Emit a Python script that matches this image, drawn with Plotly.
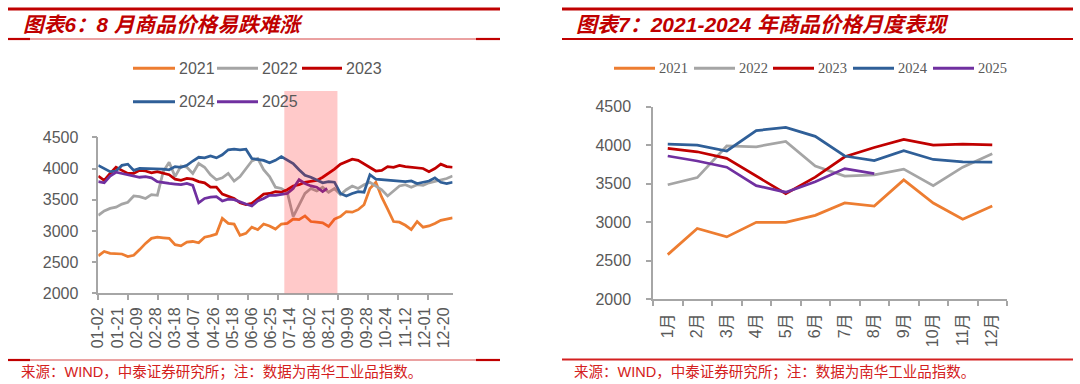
import plotly.graph_objects as go

# ---------------- data ----------------
YEARS = ["2021", "2022", "2023", "2024", "2025"]
COLORS = ["#ED7D31", "#A5A5A5", "#C00000", "#2F5F98", "#7030A0"]

# left chart: trading-day index of each sample (x axis is a trading-day category axis)
DAYS = [0, 4, 8, 12, 16, 20, 24, 28, 32, 36, 40, 44, 48, 52, 56, 60, 64, 68, 72, 76,
        80, 84, 88, 92, 96, 100, 104, 108, 112, 116, 120, 124, 128, 132, 136, 140, 144,
        148, 152, 156, 160, 164, 168, 172, 176, 180, 184, 188, 192, 196, 200, 204, 208,
        212, 216, 220, 224, 228, 232, 236, 240]
DAYS_2025 = [0, 4, 8, 12, 16, 20, 24, 28, 32, 36, 40, 44, 48, 52, 56, 60, 64, 68, 72, 76,
             80, 84, 88, 92, 96, 100, 104, 108, 112, 116, 120, 124, 128, 132, 136, 140,
             144, 148, 152, 155]

D2021 = [2600, 2670, 2640, 2640, 2630, 2590, 2610, 2700, 2800, 2880, 2900, 2890, 2880, 2780,
         2760, 2820, 2830, 2810, 2900, 2920, 2950, 3200, 3120, 3110, 2930, 2960, 3060, 3020,
         3110, 3080, 3030, 3110, 3120, 3190, 3180, 3240, 3150, 3140, 3130, 3070, 3190, 3230,
         3310, 3300, 3340, 3420, 3680, 3780, 3540, 3350, 3150, 3140, 3090, 3020, 3150, 3060,
         3080, 3120, 3170, 3190, 3210]
D2022 = [3250, 3320, 3360, 3380, 3430, 3460, 3560, 3550, 3520, 3580, 3570, 3950, 4100, 3870,
         4040, 4020, 3920, 4080, 4020, 3900, 3820, 3850, 3920, 3800, 3870, 3990, 4120, 4160,
         3980, 3870, 3700, 3680, 3620, 3230, 3420, 3600, 3680, 3640, 3700, 3620, 3680, 3580,
         3660, 3720, 3680, 3740, 3780, 3720, 3660, 3560, 3640, 3720, 3740, 3700, 3740, 3730,
         3770, 3790, 3810, 3840, 3880]
D2023 = [3880, 3810, 3920, 4020, 3970, 3920, 3920, 3970, 3960, 3930, 3950, 3930, 3900, 3830,
         3810, 3840, 3830, 3790, 3770, 3700, 3700, 3590, 3560, 3520, 3450, 3420, 3440, 3520,
         3590, 3600, 3630, 3620, 3660, 3720, 3740, 3780, 3800, 3810, 3860, 3920, 3990, 4070,
         4110, 4150, 4130, 4070, 4010, 3960, 3970, 4030, 4020, 4050, 4030, 4020, 4020, 4000,
         3950, 4000, 4070, 4030, 4020]
D2024 = [4050, 4000, 3950, 3960, 4050, 4070, 3970, 4000, 4000, 4000, 4000, 3990, 3980, 4030,
         4020, 4050, 4120, 4180, 4170, 4200, 4170, 4220, 4300, 4310, 4300, 4310, 4160, 4140,
         4130, 4090, 4130, 4190, 4140, 4080, 3980, 3890, 3860, 3810, 3770, 3790, 3780, 3600,
         3560, 3600, 3630, 3620, 3900, 3830, 3820, 3810, 3800, 3800, 3790, 3800, 3760, 3780,
         3800, 3850, 3780, 3760, 3780]
D2025 = [3790, 3770, 3880, 3940, 3920, 3900, 3870, 3860, 3870, 3850, 3790, 3770, 3760, 3750,
         3740, 3760, 3730, 3450, 3520, 3540, 3550, 3480, 3510, 3500, 3460, 3430, 3400, 3480,
         3520, 3570, 3570, 3580, 3600, 3680, 3820, 3760, 3720, 3700, 3630, 3680]

TICK_DAYS = [0, 13, 26, 39, 52, 65, 78, 91, 104, 117, 130, 143, 156, 169, 182, 195, 208, 221, 234]
DATE_LABELS = ["01-02", "01-21", "02-09", "02-28", "03-18", "04-07", "04-26", "05-18", "06-06",
               "06-25", "07-14", "08-02", "08-21", "09-09", "09-28", "10-24", "11-12", "12-01",
               "12-20"]
SHADE_START, SHADE_END = 126, 162   # August highlight (trading-day index)

# right chart: monthly averages
MONTHS = ["1月", "2月", "3月", "4月", "5月", "6月", "7月", "8月", "9月", "10月", "11月", "12月"]
M2021 = [2580, 2920, 2810, 3000, 3000, 3090, 3250, 3210, 3550, 3250, 3040, 3210]
M2022 = [3487, 3580, 3990, 3980, 4050, 3730, 3600, 3615, 3690, 3475, 3715, 3890]
M2023 = [3960, 3915, 3830, 3600, 3370, 3585, 3850, 3970, 4075, 4000, 4015, 4005]
M2024 = [4015, 4000, 3925, 4190, 4230, 4115, 3860, 3800, 3930, 3815, 3785, 3780]
M2025 = [3860, 3795, 3715, 3475, 3390, 3525, 3697, 3630]

TITLE_L = "图表6：8 月商品价格易跌难涨"
TITLE_R = "图表7：2021-2024 年商品价格月度表现"
SOURCE = "来源：WIND，中泰证券研究所；注：数据为南华工业品指数。"

# ---------------- figure ----------------
W, H = 1080, 384
def px(x):
    return x / W
def py(y):
    return 1 - y / H

RED = "#C00000"
AXC = "#A6A6A6"
TXT = "#595959"
SANS = "Liberation Sans, Arial, Noto Sans CJK SC"

fig = go.Figure()

left_x = [DAYS, DAYS, DAYS, DAYS, DAYS_2025]
left_y = [D2021, D2022, D2023, D2024, D2025]
for name, c, xs, ys in zip(YEARS, COLORS, left_x, left_y):
    fig.add_trace(go.Scatter(x=xs, y=ys, mode="lines", name=name, showlegend=False,
                             line=dict(color=c, width=2.75), xaxis="x", yaxis="y"))

right_y = [M2021, M2022, M2023, M2024, M2025]
for name, c, ys in zip(YEARS, COLORS, right_y):
    fig.add_trace(go.Scatter(x=MONTHS[:len(ys)], y=ys, mode="lines", name=name,
                             showlegend=False, line=dict(color=c, width=2.75),
                             xaxis="x2", yaxis="y2"))

tickfont = dict(family=SANS, size=16, color=TXT)

fig.update_layout(
    width=W, height=H, autosize=False,
    margin=dict(l=0, r=0, t=0, b=0, autoexpand=False),
    paper_bgcolor="white", plot_bgcolor="rgba(0,0,0,0)",
    xaxis=dict(domain=[px(98.3), px(452.6)], range=[0, 240], anchor="y", automargin=False,
               tickmode="array", tickvals=TICK_DAYS, ticktext=DATE_LABELS, tickangle=-90,
               ticks="", showline=True, linecolor=AXC, linewidth=1.5, showgrid=False,
               zeroline=False, tickfont=tickfont, ticklabelstandoff=6,
               minor=dict(ticks="outside", ticklen=5, tickwidth=1.5, tickcolor=AXC,
                          tickmode="linear", tick0=0, dtick=20.3, showgrid=False)),
    yaxis=dict(domain=[py(293.3), py(137.3)], range=[2000, 4500], anchor="x", automargin=False,
               dtick=500, ticks="outside", ticklen=5, tickwidth=1.5, tickcolor=AXC,
               showline=True, linecolor=AXC, linewidth=1.5, showgrid=False,
               zeroline=False, tickfont=tickfont, ticklabelstandoff=10),
    xaxis2=dict(domain=[px(653), px(1007)], type="category", categoryorder="array",
                categoryarray=MONTHS, range=[-0.5, 11.5], anchor="y2", automargin=False,
                tickson="boundaries", ticks="outside", ticklen=5, tickwidth=1.5,
                tickcolor=AXC, tickangle=-90, showline=True, linecolor=AXC, linewidth=1.5,
                showgrid=False, zeroline=False, tickfont=tickfont, ticklabelstandoff=6),
    yaxis2=dict(domain=[py(299.3), py(106.7)], range=[2000, 4500], anchor="x2", automargin=False,
                dtick=500, ticks="outside", ticklen=5, tickwidth=1.5, tickcolor=AXC,
                showline=True, linecolor=AXC, linewidth=1.5, showgrid=False,
                zeroline=False, tickfont=tickfont, ticklabelstandoff=12),
)

shapes = []
def hline(x0, x1, y, w, color):
    shapes.append(dict(type="line", xref="paper", yref="paper", x0=px(x0), x1=px(x1),
                       y0=py(y), y1=py(y), line=dict(color=color, width=w)))

# left panel decorations
hline(8, 500, 9, 3.2, RED)
hline(8, 500, 39, 1, "#D64545")
hline(8, 30, 39, 2.2, RED)
hline(476, 500, 39, 2.2, RED)
hline(8, 500, 360, 1, "#D64545")
hline(8, 30, 360, 2.2, RED)
hline(476, 500, 360, 2.2, RED)
# right panel decorations
hline(562, 1073, 9, 3.2, RED)
hline(562, 1073, 39, 2, RED)
hline(562, 1073, 359.5, 2, "#D42020")

# August highlight band (above lines, translucent)
shapes.append(dict(type="rect", xref="x", yref="paper", x0=SHADE_START, x1=SHADE_END,
                   y0=py(293.3), y1=py(91), fillcolor="rgba(255,0,0,0.21)",
                   line=dict(width=0), layer="above"))

annotations = []
def text(x, y, s, size, color, family, anchor="left", **font_kw):
    annotations.append(dict(x=px(x), y=py(y), xref="paper", yref="paper", text=s,
                            showarrow=False, xanchor=anchor, yanchor="middle",
                            font=dict(size=size, color=color, family=family, **font_kw)))

# legends (manual key lines + labels)
left_leg = [(133, 175, 68.3), (217, 258, 68.3), (302, 342, 68.3), (133, 175, 101.7), (217, 258, 101.7)]
for name, c, (a, b, y) in zip(YEARS, COLORS, left_leg):
    hline(a, b, y, 3, c)
    text(b + 2, y, name, 16, TXT, SANS)

right_leg_x = [614, 694, 773, 853, 933]
for name, c, a in zip(YEARS, COLORS, right_leg_x):
    hline(a, a + 41, 68.3, 3, c)
    text(a + 43, 68.3, name, 14.5, TXT, "Liberation Serif, Times New Roman")

# titles
text(21, 25, TITLE_L, 20.7, RED, SANS, weight="bold", style="italic")
text(574, 25, TITLE_R, 21, RED, SANS, weight="bold", style="italic")
# sources
text(19, 372, SOURCE, 14.5, "#D42020", SANS)
text(572, 372, SOURCE, 14.5, "#D42020", SANS)

fig.update_layout(shapes=shapes, annotations=annotations)

fig.write_html(
    "out.html",
    config={"displayModeBar": False},
    post_script="document.body.style.margin='0';document.body.style.overflow='hidden';",
)
